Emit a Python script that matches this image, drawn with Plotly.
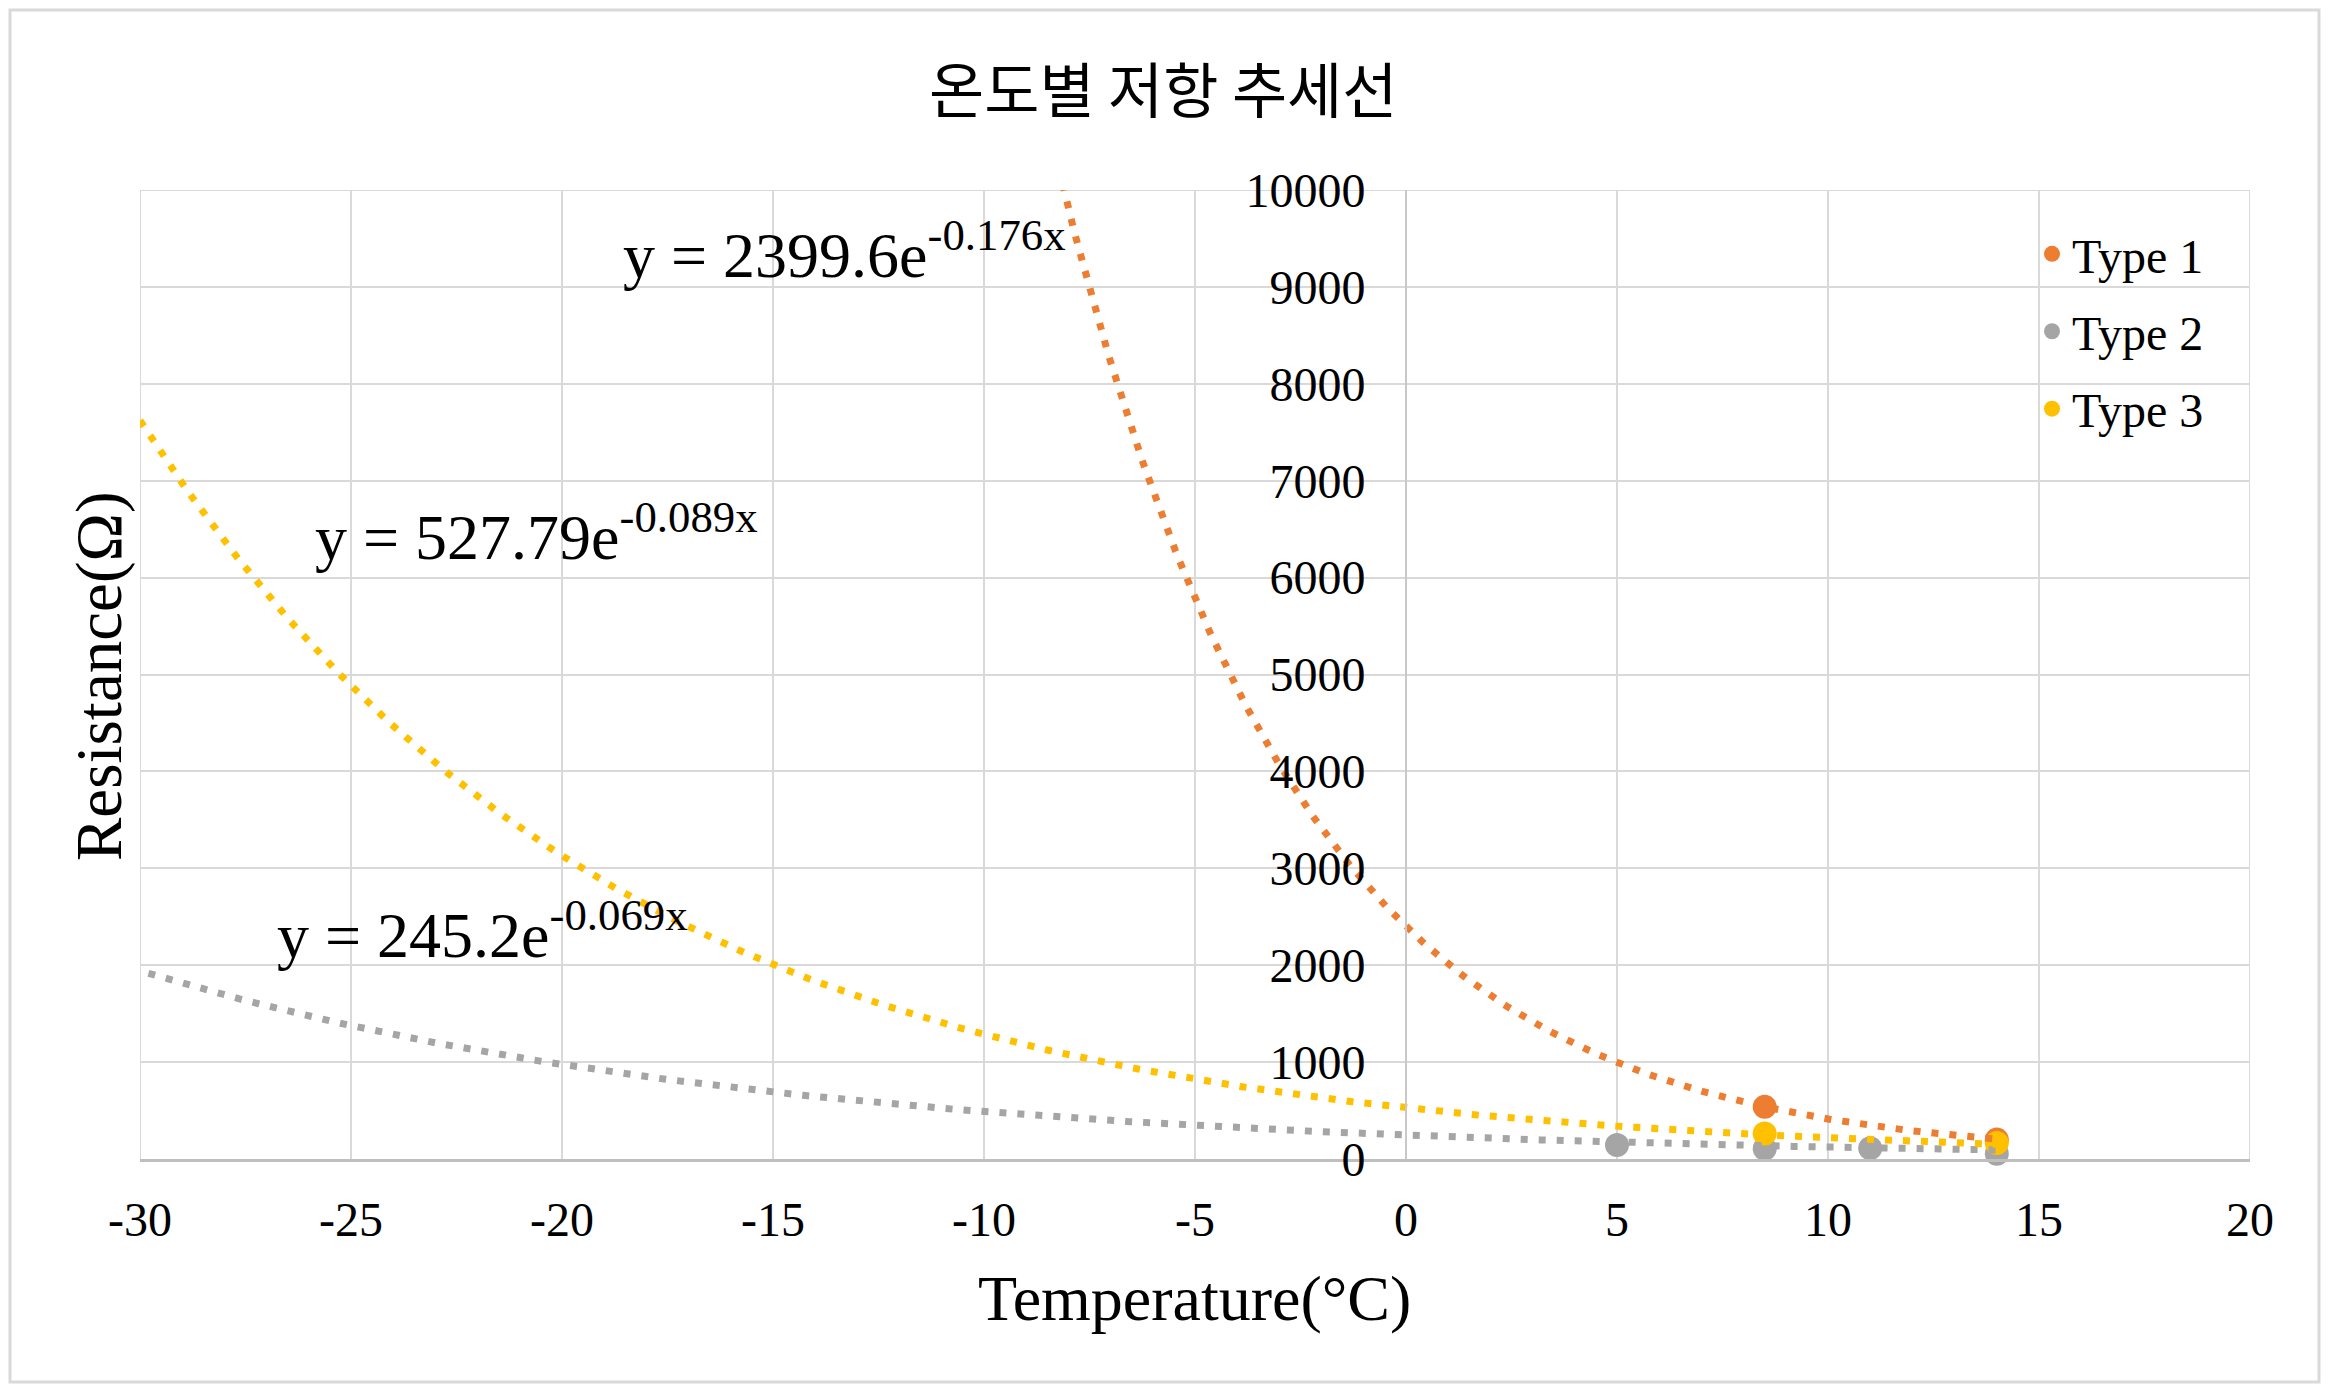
import numpy as np
import plotly.graph_objects as go

# ---- data ----
series_names = ["Type 1", "Type 2", "Type 3"]
colors = ["#ED7D31", "#A5A5A5", "#FFC000"]
type1_x = [8.5, 14]
type1_y = [538, 200]
type2_x = [5, 8.5, 11, 14]
type2_y = [145, 105, 110, 55]
type3_x = [8.5, 14]
type3_y = [262, 165]
# exponential trendline coefficients y = a*e^(b*x)
trend_a = [2399.6, 245.2, 527.79]
trend_b = [-0.176, -0.069, -0.089]
trend_labels = ["y = 2399.6e<sup>-0.176x</sup>", "y = 245.2e<sup>-0.069x</sup>", "y = 527.79e<sup>-0.089x</sup>"]
label_x = [-18.6, -26.8, -25.9]
label_y = [9380, 2360, 6470]
trend_start = [-30, -29.8, -30]
trend_end = [14, 14, 14]
x_ticks = [-30, -25, -20, -15, -10, -5, 0, 5, 10, 15, 20]
x_ticktext = ["-30", "-25", "-20", "-15", "-10", "-5", "0", "5", "10", "15", "20"]
y_ticks = [0, 1000, 2000, 3000, 4000, 5000, 6000, 7000, 8000, 9000, 10000]
y_ticktext = ["0", "1000", "2000", "3000", "4000", "5000", "6000", "7000", "8000", "9000", "10000"]

# page has 8px body margin, so figure is 16px smaller than the window
W, H = 2313, 1376
ML, MR, MT, MB = 132, 71, 182, 225
SERIF = "Liberation Serif"

fig = go.Figure()
xs_all = [type1_x, type2_x, type3_x]
ys_all = [type1_y, type2_y, type3_y]
for i in range(3):
    fig.add_trace(go.Scatter(
        x=xs_all[i], y=ys_all[i], mode="markers", name=series_names[i],
        marker=dict(color=colors[i], size=24), cliponaxis=False,
        legendgroup=series_names[i], showlegend=True))
for i in range(3):
    tx = np.linspace(trend_start[i], trend_end[i], 600)
    ty = trend_a[i] * np.exp(trend_b[i] * tx)
    fig.add_trace(go.Scatter(
        x=tx, y=ty, mode="lines", showlegend=False, hoverinfo="skip",
        line=dict(color=colors[i], width=7, dash="7px,11px")))

pw = W - ML - MR
ph = H - MT - MB

annotations = []
for i in range(3):
    annotations.append(dict(x=label_x[i], y=label_y[i], xref="x", yref="y", text=trend_labels[i],
                            showarrow=False, xanchor="left", yanchor="middle",
                            font=dict(family=SERIF, size=64, color="black")))
annotations.append(dict(x=(1163 - 8 - ML) / pw, y=1 + (MT - 78) / ph, xref="paper", yref="paper",
                        text="온도별 저항 추세선", showarrow=False, xanchor="center", yanchor="middle",
                        font=dict(family="Noto Sans CJK KR", size=60, color="black")))
annotations.append(dict(x=(1194 - 8 - ML) / pw, y=-(1290 - (H - MB)) / ph, xref="paper", yref="paper",
                        text="Temperature(°C)", showarrow=False, xanchor="center", yanchor="middle",
                        font=dict(family=SERIF, size=64, color="black")))
annotations.append(dict(x=(99 - 8 - ML) / pw, y=1 - (668 - MT) / ph, xref="paper", yref="paper",
                        text="Resistance(Ω)", showarrow=False, xanchor="center", yanchor="middle", textangle=-90,
                        font=dict(family=SERIF, size=65, color="black")))

fig.add_shape(type="rect", xref="paper", yref="paper",
              x0=(-ML + 2) / pw, x1=1 + (MR - 2) / pw, y0=(-MB + 2) / ph, y1=1 + (MT - 2) / ph,
              line=dict(color="#D9D9D9", width=3), fillcolor="rgba(0,0,0,0)", layer="below")

fig.update_layout(
    width=W, height=H,
    margin=dict(l=ML, r=MR, t=MT, b=MB, autoexpand=False),
    paper_bgcolor="white", plot_bgcolor="white",
    annotations=annotations,
    showlegend=True,
    legend=dict(x=(2024 - ML) / pw, y=0.973, xanchor="left", yanchor="top",
                font=dict(family=SERIF, size=48, color="black"), tracegroupgap=12,
                bgcolor="rgba(0,0,0,0)"),
    xaxis=dict(range=[-30, 20], tickvals=x_ticks, ticktext=x_ticktext,
               showgrid=True, gridcolor="#D9D9D9", gridwidth=2, zeroline=False,
               showline=True, linecolor="#BFBFBF", linewidth=3, mirror=False,
               ticks="", ticklabelstandoff=16,
               tickfont=dict(family=SERIF, size=48, color="black")),
    yaxis=dict(range=[0, 10000], tickvals=y_ticks, ticktext=y_ticktext, anchor="free", position=0.6,
               showgrid=True, gridcolor="#D9D9D9", gridwidth=2, zeroline=False,
               showline=True, linecolor="#C8C8C8", linewidth=2,
               ticks="", ticklabelstandoff=30,
               tickfont=dict(family=SERIF, size=48, color="black")),
)
fig.add_shape(type="line", xref="x", yref="y", x0=-30, x1=20, y0=10000, y1=10000,
              line=dict(color="#D9D9D9", width=2), layer="below")
fig.add_shape(type="line", xref="x", yref="y", x0=20, x1=20, y0=0, y1=10000,
              line=dict(color="#D9D9D9", width=2), layer="below")
fig.add_shape(type="line", xref="x", yref="y", x0=-30, x1=-30, y0=0, y1=10000,
              line=dict(color="#D9D9D9", width=2), layer="below")

fig.write_html("out.html")
